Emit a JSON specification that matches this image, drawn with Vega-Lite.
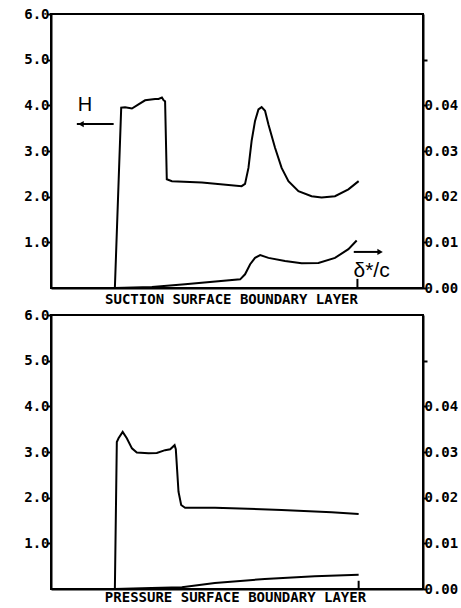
{
  "$schema": "https://vega.github.io/schema/vega-lite/v6.json",
  "background": "white",
  "padding": {"left": 22, "top": 6, "right": 0, "bottom": 0},
  "spacing": 0,
  "datasets": {
    "topH": [
      {"x": 0, "H": 0}, {"x": 0.026, "H": 3.95}, {"x": 0.042, "H": 3.96}, {"x": 0.07, "H": 3.93},
      {"x": 0.097, "H": 4.02}, {"x": 0.124, "H": 4.11}, {"x": 0.165, "H": 4.14}, {"x": 0.179, "H": 4.14},
      {"x": 0.193, "H": 4.17}, {"x": 0.2, "H": 4.11}, {"x": 0.206, "H": 4.09}, {"x": 0.213, "H": 2.38},
      {"x": 0.234, "H": 2.34}, {"x": 0.357, "H": 2.31}, {"x": 0.52, "H": 2.23}, {"x": 0.534, "H": 2.28},
      {"x": 0.548, "H": 2.63}, {"x": 0.561, "H": 3.22}, {"x": 0.575, "H": 3.66}, {"x": 0.589, "H": 3.91},
      {"x": 0.602, "H": 3.96}, {"x": 0.616, "H": 3.88}, {"x": 0.63, "H": 3.58}, {"x": 0.657, "H": 3.07},
      {"x": 0.684, "H": 2.63}, {"x": 0.712, "H": 2.34}, {"x": 0.753, "H": 2.12}, {"x": 0.807, "H": 2.01},
      {"x": 0.848, "H": 1.98}, {"x": 0.903, "H": 2.01}, {"x": 0.958, "H": 2.16}, {"x": 1.0, "H": 2.34}
    ],
    "topD": [
      {"x": 0, "d": 0}, {"x": 0.152, "d": 0.0002}, {"x": 0.288, "d": 0.0008}, {"x": 0.514, "d": 0.0019},
      {"x": 0.534, "d": 0.003}, {"x": 0.555, "d": 0.0052}, {"x": 0.575, "d": 0.0066}, {"x": 0.596, "d": 0.0072},
      {"x": 0.63, "d": 0.0066}, {"x": 0.698, "d": 0.0059}, {"x": 0.766, "d": 0.0054}, {"x": 0.835, "d": 0.0055},
      {"x": 0.903, "d": 0.0066}, {"x": 0.958, "d": 0.0085}, {"x": 0.992, "d": 0.0104}
    ],
    "botH": [
      {"x": 0, "H": 0}, {"x": 0.008, "H": 3.22}, {"x": 0.015, "H": 3.3}, {"x": 0.032, "H": 3.44},
      {"x": 0.049, "H": 3.3}, {"x": 0.07, "H": 3.08}, {"x": 0.09, "H": 2.99}, {"x": 0.138, "H": 2.97},
      {"x": 0.172, "H": 2.98}, {"x": 0.206, "H": 3.04}, {"x": 0.227, "H": 3.06}, {"x": 0.245, "H": 3.15},
      {"x": 0.25, "H": 3.06}, {"x": 0.261, "H": 2.13}, {"x": 0.272, "H": 1.84}, {"x": 0.288, "H": 1.78},
      {"x": 0.411, "H": 1.78}, {"x": 0.684, "H": 1.73}, {"x": 0.889, "H": 1.68}, {"x": 1.0, "H": 1.64}
    ],
    "botD": [
      {"x": 0, "d": 0}, {"x": 0.15, "d": 0.0002}, {"x": 0.275, "d": 0.0004}, {"x": 0.41, "d": 0.0013},
      {"x": 0.615, "d": 0.0022}, {"x": 0.82, "d": 0.0028}, {"x": 1.0, "d": 0.0031}
    ],
    "labH": [{"x": -0.123, "H": 4.0, "label": "H"}],
    "arrowH": [{"x": -0.156, "x2": -0.005, "H": 3.59}],
    "headH": [{"x": -0.139, "H": 3.59}],
    "endTop": [{"x": 0.995, "H": 0, "H2": 0.2}],
    "endBot": [{"x": 1.0, "H": 0, "H2": 0.18}],
    "labD": [{"x": 1.053, "d": 0.0037, "label": "δ*/c"}],
    "arrowD": [{"x": 0.98, "x2": 1.09, "d": 0.0079}],
    "headD": [{"x": 1.088, "d": 0.0079}]
  },
  "vconcat": [
    {
      "width": 372,
      "height": 274,
      "resolve": {"scale": {"y": "independent"}},
      "layer": [
        {
          "layer": [
            {
              "data": {"name": "topH"},
              "mark": {"type": "line", "color": "black", "strokeWidth": 2},
              "encoding": {
                "x": {"field": "x", "type": "quantitative", "scale": {"domain": [-0.262, 1.264], "nice": false, "zero": false},
                  "axis": {"title": "SUCTION SURFACE BOUNDARY LAYER", "labels": false, "ticks": false, "titleX": 180, "titlePadding": 4}},
                "y": {"field": "H", "type": "quantitative", "scale": {"domain": [0, 6], "nice": false},
                  "axis": {"title": null, "orient": "left", "values": [1, 2, 3, 4, 5, 6], "format": ".1f"}}
              }
            },
            {
              "data": {"name": "labH"},
              "mark": {"type": "text", "font": "Liberation Sans", "fontSize": 20, "color": "black", "align": "center", "baseline": "middle"},
              "encoding": {"x": {"field": "x", "type": "quantitative"}, "y": {"field": "H", "type": "quantitative"}, "text": {"field": "label"}}
            },
            {
              "data": {"name": "arrowH"},
              "mark": {"type": "rule", "color": "black", "strokeWidth": 2},
              "encoding": {"x": {"field": "x", "type": "quantitative"}, "x2": {"field": "x2"}, "y": {"field": "H", "type": "quantitative"}}
            },
            {
              "data": {"name": "headH"},
              "mark": {"type": "point", "shape": "triangle-left", "filled": true, "color": "black", "size": 40, "opacity": 1},
              "encoding": {"x": {"field": "x", "type": "quantitative"}, "y": {"field": "H", "type": "quantitative"}}
            },
            {
              "data": {"name": "endTop"},
              "mark": {"type": "rule", "color": "black", "strokeWidth": 2},
              "encoding": {"x": {"field": "x", "type": "quantitative"}, "y": {"field": "H", "type": "quantitative"}, "y2": {"field": "H2"}}
            }
          ]
        },
        {
          "layer": [
            {
              "data": {"name": "topD"},
              "mark": {"type": "line", "color": "black", "strokeWidth": 2},
              "encoding": {
                "x": {"field": "x", "type": "quantitative"},
                "y": {"field": "d", "type": "quantitative", "scale": {"domain": [0, 0.06], "nice": false},
                  "axis": {"title": null, "orient": "right", "labelPadding": -3, "values": [0, 0.01, 0.02, 0.03, 0.04, 0.05],
                    "labelExpr": "datum.value > 0.045 ? '' : format(datum.value, '.2f')"}}
              }
            },
            {
              "data": {"name": "labD"},
              "mark": {"type": "text", "font": "Liberation Sans", "fontSize": 21, "color": "black", "align": "center", "baseline": "middle"},
              "encoding": {"x": {"field": "x", "type": "quantitative"}, "y": {"field": "d", "type": "quantitative"}, "text": {"field": "label"}}
            },
            {
              "data": {"name": "arrowD"},
              "mark": {"type": "rule", "color": "black", "strokeWidth": 2},
              "encoding": {"x": {"field": "x", "type": "quantitative"}, "x2": {"field": "x2"}, "y": {"field": "d", "type": "quantitative"}}
            },
            {
              "data": {"name": "headD"},
              "mark": {"type": "point", "shape": "triangle-right", "filled": true, "color": "black", "size": 40, "opacity": 1},
              "encoding": {"x": {"field": "x", "type": "quantitative"}, "y": {"field": "d", "type": "quantitative"}}
            }
          ]
        }
      ]
    },
    {
      "width": 372,
      "height": 274,
      "resolve": {"scale": {"y": "independent"}},
      "layer": [
        {
          "layer": [
            {
              "data": {"name": "botH"},
              "mark": {"type": "line", "color": "black", "strokeWidth": 2},
              "encoding": {
                "x": {"field": "x", "type": "quantitative", "scale": {"domain": [-0.262, 1.264], "nice": false, "zero": false},
                  "axis": {"title": "PRESSURE SURFACE BOUNDARY LAYER", "labels": false, "ticks": false, "titleX": 184, "titlePadding": 1}},
                "y": {"field": "H", "type": "quantitative", "scale": {"domain": [0, 6], "nice": false},
                  "axis": {"title": null, "orient": "left", "values": [1, 2, 3, 4, 5, 6], "format": ".1f"}}
              }
            },
            {
              "data": {"name": "endBot"},
              "mark": {"type": "rule", "color": "black", "strokeWidth": 2},
              "encoding": {"x": {"field": "x", "type": "quantitative"}, "y": {"field": "H", "type": "quantitative"}, "y2": {"field": "H2"}}
            }
          ]
        },
        {
          "layer": [
            {
              "data": {"name": "botD"},
              "mark": {"type": "line", "color": "black", "strokeWidth": 2},
              "encoding": {
                "x": {"field": "x", "type": "quantitative"},
                "y": {"field": "d", "type": "quantitative", "scale": {"domain": [0, 0.06], "nice": false},
                  "axis": {"title": null, "orient": "right", "labelPadding": -3, "values": [0, 0.01, 0.02, 0.03, 0.04, 0.05],
                    "labelExpr": "datum.value > 0.045 ? '' : format(datum.value, '.2f')"}}
              }
            }
          ]
        }
      ]
    }
  ],
  "config": {
    "view": {"stroke": "black", "strokeWidth": 2},
    "axis": {
      "grid": false,
      "domainColor": "black",
      "domainWidth": 2,
      "tickColor": "black",
      "tickWidth": 2,
      "tickSize": 4,
      "labelPadding": -2,
      "labelFont": "DejaVu Sans Mono",
      "labelFontWeight": "bold",
      "labelFontSize": 14,
      "labelColor": "black",
      "titleFont": "DejaVu Sans Mono",
      "titleFontWeight": "bold",
      "titleFontSize": 14,
      "titleColor": "black"
    }
  }
}
